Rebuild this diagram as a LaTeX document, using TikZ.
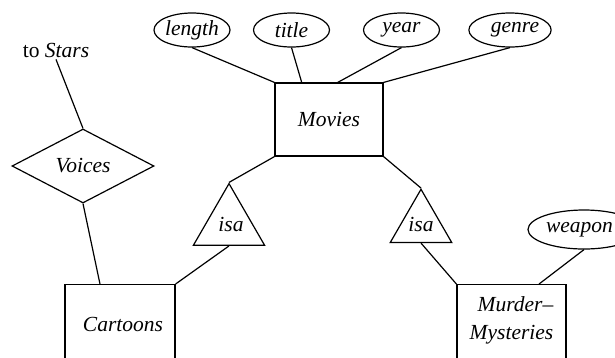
\documentclass[tikz,border=0pt]{standalone}
\usepackage{fontspec}
\setmainfont{Liberation Serif}
\usetikzlibrary{shapes.geometric,calc}
\begin{document}
\begin{tikzpicture}[x=1pt,y=-1pt,
  every node/.style={font=\fontsize{21.5}{26}\selectfont\itshape},
  line/.style={line width=1.2pt},
  entity/.style={draw,line width=1.2pt,rectangle,inner sep=0pt},
  attr/.style={draw,line width=1.2pt,ellipse,inner sep=0pt,minimum width=76pt,minimum height=34pt},
  rel/.style={draw,line width=1.2pt,diamond,inner sep=0pt,aspect=2,minimum width=142pt,minimum height=74pt},
  isabox/.style={draw,line width=1.2pt,regular polygon,regular polygon sides=3,inner sep=0pt,minimum size=63.5pt},
  plain/.style={inner sep=2pt}]
\useasboundingbox (0,0) rectangle (615,357);
\clip (0,0) rectangle (615,357);
% entities
\node[entity,minimum width=108pt,minimum height=73pt] (Movies) at (329,119.5) {Movies};
\node[entity,minimum width=110pt,minimum height=120pt,anchor=north] (Cartoons) at (120,284) {};
\node[plain] (CartoonsText) at (123,324) {Cartoons};
\node[entity,minimum width=109pt,minimum height=120pt,anchor=north] (Murder) at (511.5,284) {};
\node[plain,align=center] (MurderText) at (511.5,320) {\hspace*{8pt}Murder--\\[2pt]Mysteries};
% attributes
\node[attr] (length) at (192,30) {length};
\node[attr] (title) at (291.5,30) {title};
\node[attr] (year) at (401.5,30) {year};
\node[attr,minimum width=74pt] (genre) at (510,30) {\hspace*{10pt}genre};
\node[attr,minimum width=112pt,minimum height=39pt] (weapon) at (584,229.5) {\hspace*{-9pt}weapon};
% relationship
\node[rel] (Voices) at (83,166) {Voices};
\node[plain,font=\fontsize{21.5}{26}\selectfont] (Stars) at (56,50) {to \textit{Stars}};
% isa triangles
\node[isabox] (isaL) at (229,224.75) {\hspace*{4pt}isa};
\node[isabox] (isaR) at (421,224.75) {isa};
% connectors
\draw[line] (length.south) -- (Movies.north west);
\draw[line] (title.south) -- ($(Movies.north west)!0.25!(Movies.north east)$);
\draw[line] (year.south) -- ($(Movies.north west)!0.58!(Movies.north east)$);
\draw[line] (genre.south) -- (Movies.north east);
\draw[line] (Stars.south) -- (Voices.north);
\draw[line] (Voices.south) -- ($(Cartoons.north west)!0.32!(Cartoons.north east)$);
\draw[line] (Movies.south west) -- (isaL.north);
\draw[line] (isaL.south) -- (Cartoons.north east);
\draw[line] (Movies.south east) -- (isaR.north);
\draw[line] (isaR.south) -- (Murder.north west);
\draw[line] (weapon.south) -- ($(Murder.north west)!0.75!(Murder.north east)$);
\end{tikzpicture}
\end{document}
